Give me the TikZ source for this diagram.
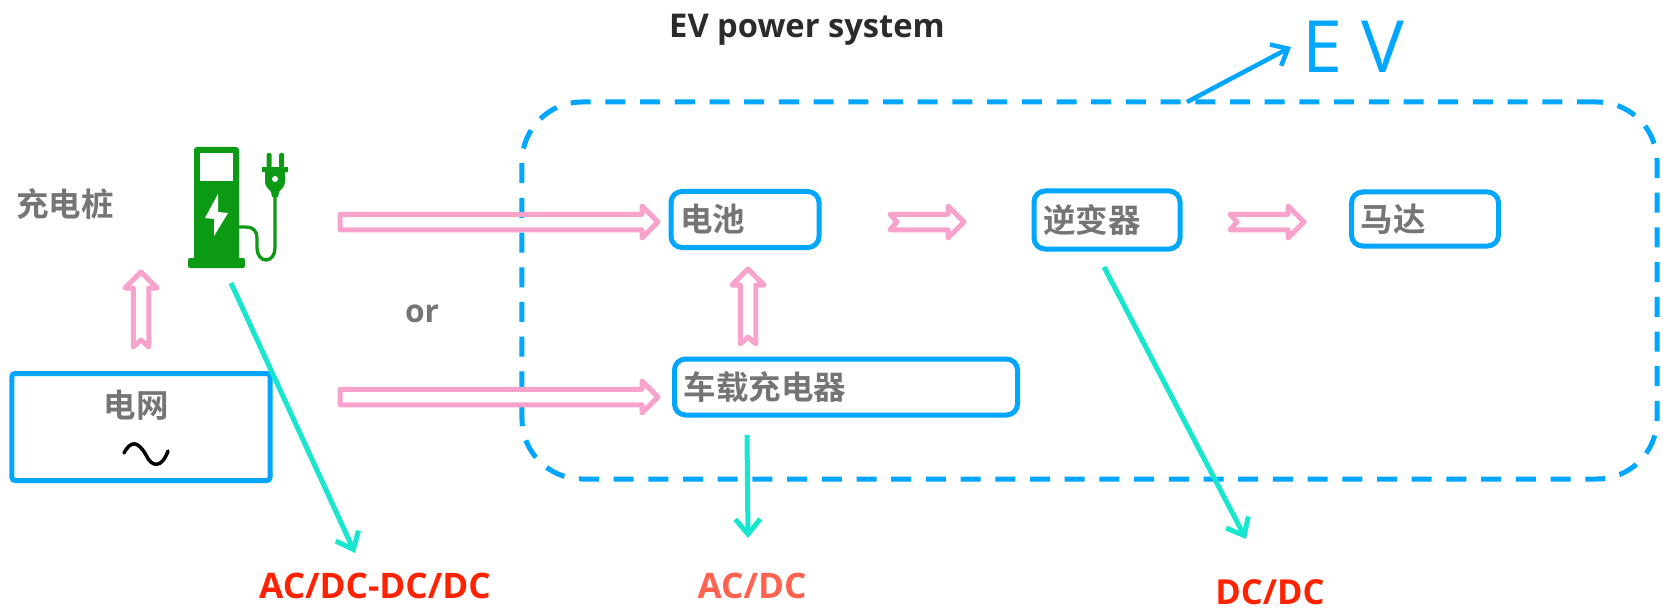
\documentclass[tikz,border=0pt]{standalone}
\usepackage{fontspec}
\setmainfont{Open Sans}
\newfontfamily\cjkbold[BoldFont=Noto Sans CJK SC Bold]{Noto Sans CJK SC}
\usetikzlibrary{positioning,arrows.meta,calc}
\definecolor{evblue}{HTML}{00A6FF}
\definecolor{flowpink}{HTML}{F7A3CC}
\definecolor{convteal}{HTML}{19E6CF}
\definecolor{pilegreen}{HTML}{0C9A15}
\definecolor{labgray}{HTML}{757575}
\definecolor{convred}{HTML}{FF2200}
\definecolor{convsalmon}{HTML}{FF6350}
\tikzset{
  unit/.style     = {rectangle, draw=evblue, line width=1mm, rounded corners=2.2mm,
                     minimum height=11.2mm, inner xsep=1.8mm, inner ysep=0pt, align=left,
                     text=labgray, font=\cjkbold\bfseries\fontsize{18.5}{22}\selectfont},
  lab/.style      = {text=labgray, font=\cjkbold\bfseries\fontsize{18.5}{22}\selectfont, inner sep=0pt},
  conv/.style     = {font=\bfseries\fontsize{20}{24}\selectfont, inner sep=0pt},
  tealedge/.style = {-{Straight Barb[length=3mm,width=5mm]}, draw=convteal, line width=1mm},
  flow/.style     = {draw=flowpink, line width=1mm, line join=round, to path={
      ($(\tikztostart)!1.55mm!90:(\tikztotarget)$)
      -- ($(\tikztotarget)!3.2mm!(\tikztostart)!1.55mm!90:(\tikztotarget)$)
      -- ($(\tikztotarget)!3.2mm!(\tikztostart)!3.2mm!90:(\tikztotarget)$)
      -- (\tikztotarget)
      -- ($(\tikztotarget)!3.2mm!(\tikztostart)!3.2mm!-90:(\tikztotarget)$)
      -- ($(\tikztotarget)!3.2mm!(\tikztostart)!1.55mm!-90:(\tikztotarget)$)
      -- ($(\tikztostart)!1.55mm!-90:(\tikztotarget)$) -- cycle}},
  notchflow/.style = {draw=flowpink, line width=1mm, line join=round, to path={
      ($(\tikztostart)!1.55mm!90:(\tikztotarget)$)
      -- ($(\tikztotarget)!3.2mm!(\tikztostart)!1.55mm!90:(\tikztotarget)$)
      -- ($(\tikztotarget)!3.2mm!(\tikztostart)!3.2mm!90:(\tikztotarget)$)
      -- (\tikztotarget)
      -- ($(\tikztotarget)!3.2mm!(\tikztostart)!3.2mm!-90:(\tikztotarget)$)
      -- ($(\tikztotarget)!3.2mm!(\tikztostart)!1.55mm!-90:(\tikztotarget)$)
      -- ($(\tikztostart)!1.55mm!-90:(\tikztotarget)$)
      -- ($(\tikztostart)!1.4mm!(\tikztotarget)$) -- cycle}},
}

\begin{document}
\begin{tikzpicture}[x=0.2mm,y=-0.2mm]
  \useasboundingbox (0,0) rectangle (1663,610);

  % car outline and title
  \node[rectangle, draw=evblue, line width=1mm, dashed, dash pattern=on 4mm off 2.94mm,
        rounded corners=12mm, minimum width=227mm, minimum height=75.4mm] (ev) at (1089.5,290.5) {};
  \node[font=\bfseries\fontsize{18.6}{22}\selectfont, text=black!83, inner sep=0pt] (title) at (807,30) {EV power system};
  \node[anchor=west, text=evblue, font=\fontsize{41}{46}\selectfont, inner xsep=2.2mm, inner ysep=0pt] (evlab) at (1291,47) {E V};

  % grid and charging pile
  \node[unit, rounded corners=0.6mm, minimum width=51.6mm, minimum height=21.4mm] (grid) at (141,427) {};
  \node[lab] (gridlab) at (136,405) {电网};
  \node[lab] (pilelab) at (65,204) {充电桩};
  \draw[black, line width=0.7mm, line cap=round] (124,453) .. controls (131,440) and (138,441) .. (146,455)
    .. controls (152,468) and (162,468) .. (168,451);

  \fill[pilegreen, rounded corners=0.6mm] (194,260) -- (194,147) -- (239,147) -- (239,260) -- cycle;
  \fill[pilegreen, rounded corners=0.4mm] (188,268) -- (188,258) -- (245,258) -- (245,268) -- cycle;
  \fill[white] (200,153) rectangle (233,181);
  \fill[white] (218,194) -- (205,218) -- (214,219) -- (214,236) -- (228,213) -- (218,212) -- cycle;
  \draw[pilegreen, line width=0.66mm] (239,227) -- (246,227) .. controls (253,227) and (257,231) .. (257,238)
    -- (257,248) .. controls (257,255) and (261,260) .. (266,260) .. controls (271,260) and (275,255) .. (275,248) -- (275,195);
  \fill[pilegreen, rounded corners=0.3mm] (266.5,168) rectangle (271.5,153);
  \fill[pilegreen, rounded corners=0.3mm] (279,168) rectangle (284,153);
  \fill[pilegreen] (262,167) -- (288,167) -- (288,172) -- (285,172) -- (285,182)
    .. controls (285,187) and (280,190) .. (279,192) -- (278,197) -- (272,197) -- (271,192)
    .. controls (270,190) and (265,187) .. (265,182) -- (265,172) -- (262,172) -- cycle;
  \fill[white] (275,179) circle (3);

  % power units
  \node[unit, text width=26mm, minimum width=29.4mm] (bat) at (745,219.5) {电池};
  \node[unit, text width=25.6mm, minimum width=29mm, minimum height=11.6mm] (inv) at (1107,220) {逆变器};
  \node[unit, text width=25.8mm, minimum width=29.2mm, minimum height=10.8mm] (motor) at (1425,219) {马达};
  \node[unit, text width=65mm, minimum width=68.4mm] (obc) at (846,387) {车载充电器};

  \node[font=\bfseries\fontsize{18}{22}\selectfont, text=labgray, inner sep=0pt] (orlab) at (422,314) {or};
  \node[conv, text=convred] (conva) at (375,586) {AC/DC-DC/DC};
  \node[conv, text=convsalmon] (convb) at (752,586) {AC/DC};
  \node[conv, text=convred, font=\bfseries\fontsize{19.6}{24}\selectfont] (convc) at (1270,592) {DC/DC};

  % free ends
  \coordinate (pileout) at (340,222);
  \coordinate (batin) at (658,222);
  \coordinate (gridout) at (340,397);
  \coordinate (obcin) at (658,397);
  \coordinate (gridup) at (141,347);
  \coordinate (pileup) at (141,272);
  \coordinate (obcup) at (748,344);
  \coordinate (batdown) at (748,269);
  \coordinate (batout) at (890,222);
  \coordinate (invin) at (964,222);
  \coordinate (invout) at (1230,222);
  \coordinate (motorin) at (1304,222);
  \coordinate (evtop) at (1187,102);
  \coordinate (pilest) at (231,283);
  \coordinate (pileend) at (355,553);
  \coordinate (obcst) at (747,435);
  \coordinate (obcend) at (748,538);
  \coordinate (invst) at (1104,267);
  \coordinate (invend) at (1246,539);

  % edges
  \draw[flow] (pileout) to (batin);
  \draw[flow] (gridout) to (obcin);
  \draw[notchflow] (gridup) to (pileup);
  \draw[notchflow] (obcup) to (batdown);
  \draw[notchflow] (batout) to (invin);
  \draw[notchflow] (invout) to (motorin);
  \draw[tealedge] (pilest) -- (pileend);
  \draw[tealedge] (obcst) -- (obcend);
  \draw[tealedge] (invst) -- (invend);
  \draw[-{Straight Barb[length=2.8mm,width=4.8mm]}, draw=evblue, line width=0.9mm] (evtop) -- (evlab.west);

\end{tikzpicture}
\end{document}
